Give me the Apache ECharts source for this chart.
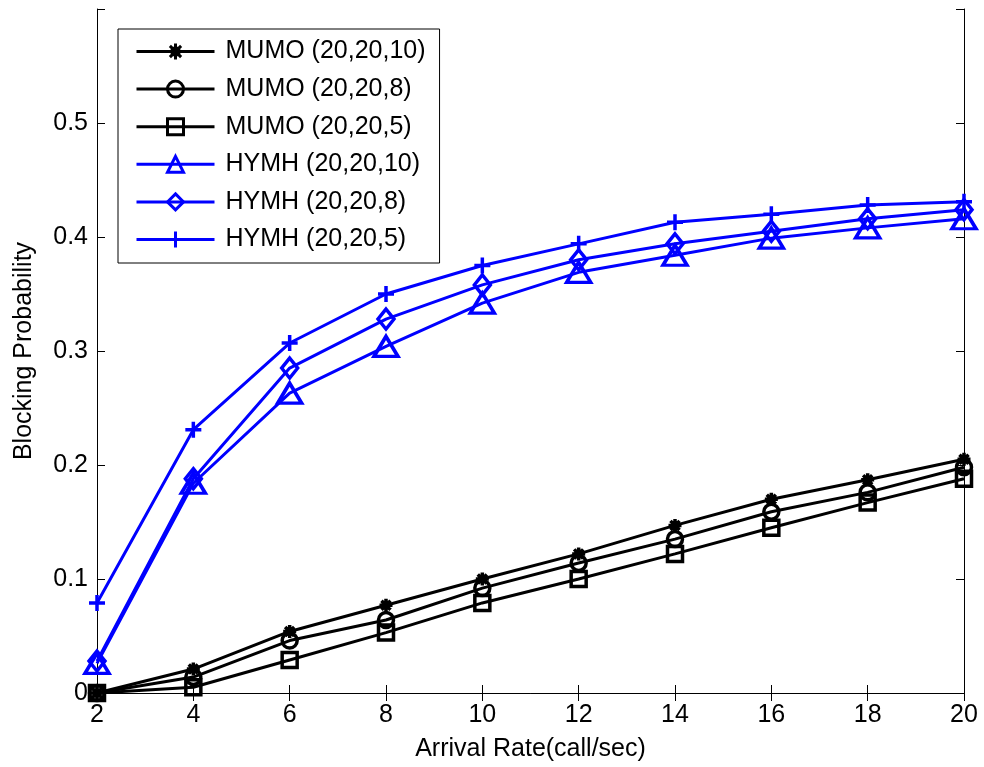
<!DOCTYPE html>
<html>
<head>
<meta charset="utf-8">
<script src="https://cdn.jsdelivr.net/npm/echarts@6/dist/echarts.min.js"></script>
<style>
  html, body { margin: 0; padding: 0; background: #fff; }
  #chart { width: 984px; height: 767px; }
</style>
</head>
<body>
<div id="chart"></div>
<script>
// Arrival rate (call/sec) on the x axis
const arrivalRates = [2, 4, 6, 8, 10, 12, 14, 16, 18, 20];

// Blocking probability per scheme and configuration
const mumo_20_20_10 = [0.000, 0.021, 0.054, 0.077, 0.100, 0.122, 0.147, 0.170, 0.187, 0.205];
const mumo_20_20_8  = [0.000, 0.014, 0.046, 0.064, 0.092, 0.114, 0.135, 0.159, 0.176, 0.198];
const mumo_20_20_5  = [0.000, 0.005, 0.029, 0.053, 0.079, 0.100, 0.122, 0.145, 0.167, 0.188];
const hymh_20_20_10 = [0.026, 0.184, 0.263, 0.304, 0.342, 0.369, 0.384, 0.399, 0.408, 0.416];
const hymh_20_20_8  = [0.028, 0.188, 0.285, 0.328, 0.358, 0.380, 0.394, 0.405, 0.416, 0.424];
const hymh_20_20_5  = [0.079, 0.231, 0.307, 0.350, 0.375, 0.394, 0.413, 0.420, 0.428, 0.431];

const seriesNames = [
  'MUMO (20,20,10)', 'MUMO (20,20,8)', 'MUMO (20,20,5)',
  'HYMH (20,20,10)', 'HYMH (20,20,8)', 'HYMH (20,20,5)'
];

const yTicks = [0, 0.1, 0.2, 0.3, 0.4, 0.5];

const FONT = "Arial, 'Liberation Sans', sans-serif";
const BLACK = '#000000';
const BLUE = '#0000ff';

// marker shapes drawn as outlines (MATLAB style, unfilled)
const STAR = 'path://M0,-6L0,6M-6,0L6,0M-4.2,-4.2L4.2,4.2M-4.2,4.2L4.2,-4.2M-2.5,-2.5L2.5,-2.5L2.5,2.5L-2.5,2.5Z';
const PLUS = 'path://M0,-8L0,8M-8,0L8,0';

function pairs(values) {
  return arrivalRates.map((x, i) => [x, values[i]]);
}

function makeSeries(name, values, color, symbol, size, fill) {
  return {
    name: name,
    type: 'line',
    data: pairs(values),
    symbol: symbol,
    symbolSize: size,
    showAllSymbol: true,
    clip: false,
    z: 3,
    lineStyle: { color: color, width: 3 },
    itemStyle: { color: fill || 'rgba(255,255,255,0)', borderColor: color, borderWidth: 3.5 },
    emphasis: { disabled: true }
  };
}

const chart = echarts.init(document.getElementById('chart'), null, { renderer: 'canvas' });

const axisLineStyle = { lineStyle: { color: BLACK, width: 1 } };

chart.setOption({
  animation: false,
  backgroundColor: '#ffffff',
  grid: { left: 97, right: 20, top: 9, bottom: 74, containLabel: false },
  legend: {
    orient: 'vertical',
    left: 118,
    top: 29,
    padding: [10, 14, 11, 17],
    itemWidth: 78,
    itemHeight: 20,
    itemGap: 12.6,
    backgroundColor: '#ffffff',
    borderColor: BLACK,
    borderWidth: 1,
    borderRadius: 0,
    lineStyle: { width: 3 },
    itemStyle: { borderWidth: 3 },
    textStyle: { fontFamily: FONT, fontSize: 25, color: BLACK, padding: [0, 0, 0, 6] },
    data: seriesNames
  },
  xAxis: [
    {
      type: 'value',
      position: 'bottom',
      min: 2, max: 20, interval: 2,
      name: 'Arrival Rate(call/sec)',
      nameLocation: 'middle',
      nameGap: 44,
      nameTextStyle: { fontFamily: FONT, fontSize: 25, color: BLACK },
      axisLine: axisLineStyle,
      axisTick: { inside: true, length: 8, lineStyle: { color: BLACK } },
      axisLabel: { fontFamily: FONT, fontSize: 25, color: BLACK, margin: 10 },
      splitLine: { show: false }
    },
    {
      type: 'value',
      position: 'top',
      min: 2, max: 20, interval: 2,
      axisLine: axisLineStyle,
      axisTick: { inside: true, length: 8, lineStyle: { color: BLACK } },
      axisLabel: { show: false },
      splitLine: { show: false }
    }
  ],
  yAxis: [
    {
      type: 'value',
      position: 'left',
      min: 0, max: 0.6, interval: 0.1,
      name: 'Blocking Probability',
      nameLocation: 'middle',
      nameGap: 60,
      nameTextStyle: { fontFamily: FONT, fontSize: 25, color: BLACK },
      axisLine: axisLineStyle,
      axisTick: { inside: true, length: 8, lineStyle: { color: BLACK } },
      axisLabel: {
        fontFamily: FONT, fontSize: 25, color: BLACK, margin: 9,
        formatter: function (v) {
          const t = yTicks.find(k => Math.abs(k - v) < 1e-9);
          return t === undefined ? '' : String(t);
        }
      },
      splitLine: { show: false }
    },
    {
      type: 'value',
      position: 'right',
      min: 0, max: 0.6, interval: 0.1,
      axisLine: axisLineStyle,
      axisTick: { inside: true, length: 8, lineStyle: { color: BLACK } },
      axisLabel: { show: false },
      splitLine: { show: false }
    }
  ],
  series: [
    makeSeries(seriesNames[0], mumo_20_20_10, BLACK, STAR, 13, BLACK),
    makeSeries(seriesNames[1], mumo_20_20_8, BLACK, 'circle', 15),
    makeSeries(seriesNames[2], mumo_20_20_5, BLACK, 'rect', 15),
    makeSeries(seriesNames[3], hymh_20_20_10, BLUE, 'triangle', [24, 20]),
    makeSeries(seriesNames[4], hymh_20_20_8, BLUE, 'diamond', [16, 20]),
    makeSeries(seriesNames[5], hymh_20_20_5, BLUE, PLUS, 16)
  ]
});
</script>
</body>
</html>
